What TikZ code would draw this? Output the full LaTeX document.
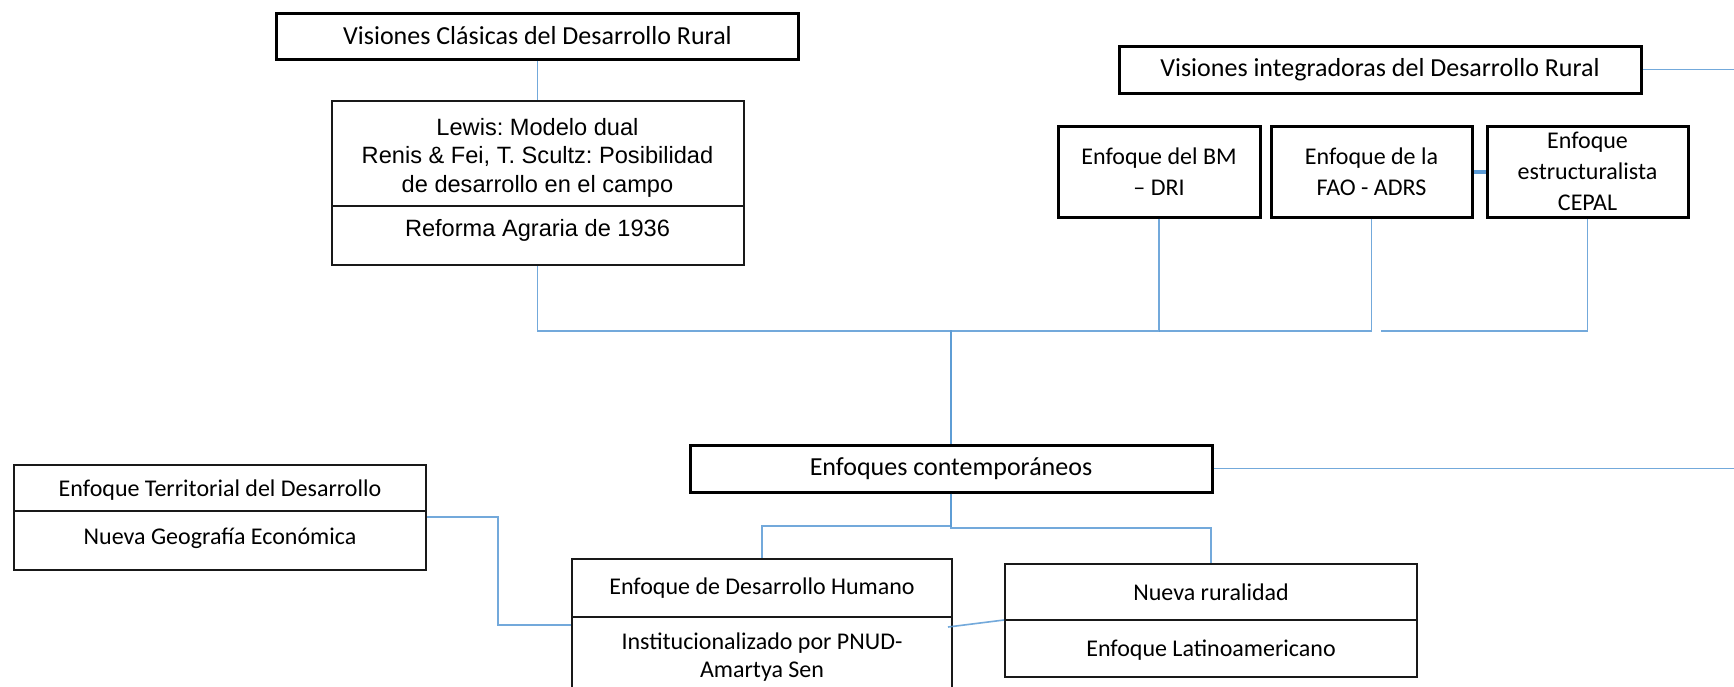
\documentclass[tikz,border=0pt]{standalone}
\usepackage{fontspec}
\newfontfamily\calibri{Carlito}
\newfontfamily\arial{Liberation Sans}
\usetikzlibrary{calc}
\definecolor{linkblue}{HTML}{5B9BD5}
\frenchspacing
\begin{document}
\begin{tikzpicture}[x=0.5pt,y=-0.5pt,
  sz/.style 2 args={minimum width=#1*0.5pt, minimum height=#2*0.5pt},
  tbox/.style={draw=black, line width=1.5pt, inner sep=0pt},
  nbox/.style={draw=black!90, line width=1pt, inner sep=0pt},
  conn/.style={draw=linkblue, line width=0.8pt, draw opacity=0.85},
  calT/.style={font=\calibri\fontsize{13}{16}\selectfont, align=center},
  calS/.style={font=\calibri\fontsize{12}{15.5}\selectfont, align=center},
  calD/.style={font=\calibri\fontsize{12}{14}\selectfont, align=center},
  ari/.style={font=\arial\fontsize{11.8}{14.25}\selectfont, align=center}]
\useasboundingbox (0,0) rectangle (1734,686);
\clip (0,0) rectangle (1734,686);
\fill[white] (0,0) rectangle (1734,686);

% Classical visions
\node[tbox, sz={522}{46}, calT] (vc) at (537.5,36) {Visiones Clásicas del Desarrollo Rural};
\node[nbox, sz={412}{105}] (lewisA) at (537.5,153.5) {};
\node[ari] (lewisAt) at (537.5,157.5) {Lewis: Modelo dual\\Renis \& Fei, T. Scultz: Posibilidad\\de desarrollo en el campo};
\node[nbox, sz={412}{59}] (lewisB) at (537.5,235.5) {};
\node[ari] (lewisBt) at (537.5,230) {Reforma Agraria de 1936};

% Integrating visions
\node[tbox, sz={522}{47}, calT] (vi) at (1380,69.5) {Visiones integradoras del Desarrollo Rural};
\node[tbox, sz={202}{91}, calS] (bm) at (1159,171.5) {Enfoque del BM\\– DRI};
\node[tbox, sz={201}{91}, calS] (fao) at (1371.5,171.5) {Enfoque de la\\FAO - ADRS};
\node[tbox, sz={201}{91}, calS] (cepal) at (1587.5,171.5) {Enfoque\\estructuralista\\CEPAL};

% Contemporary
\node[tbox, sz={522}{47}, calT] (ec) at (951,468.5) {Enfoques contemporáneos};
\node[nbox, sz={412}{46}] (etA) at (220,488) {};
\node[calS] (etAt) at (220,490.5) {Enfoque Territorial del Desarrollo};
\node[nbox, sz={412}{59}] (etB) at (220,540.5) {};
\node[calS] (etBt) at (220,538) {Nueva Geografía Económica};
\node[nbox, sz={380}{58}, calS] (dhA) at (762,588) {Enfoque de Desarrollo Humano};
\node[nbox, sz={380}{103}] (dhB) at (762,668.5) {};
\node[calD] (dhBt) at (762,657) {Institucionalizado por PNUD-\\Amartya Sen};
\node[nbox, sz={412}{56}, calS] (nrA) at (1211,592) {Nueva ruralidad};
\node[nbox, sz={412}{57}] (nrB) at (1211,648.5) {};
\node[calS] (nrBt) at (1211,650.5) {Enfoque Latinoamericano};

% helper coordinates
\coordinate (hub) at (951,331);
\coordinate (gapend) at (1381,331);
\coordinate (viend) at (1734,69.5);
\coordinate (ecend) at (1734,468.5);
\coordinate (forkL) at (762,526);
\coordinate (forkR) at (1211,528);

% connectors
\draw[conn] (vc.south) -- (lewisA.north);
\draw[conn] (lewisB.south) |- (hub) -- (ec.north);
\draw[conn] (bm.south) |- (hub) -- (ec.north);
\draw[conn] (fao.south) |- (bm.south |- hub);
\draw[conn] (cepal.south) |- (gapend);
\draw[draw=linkblue, line width=2pt] (fao.east) -- (cepal.west);
\draw[conn] (vi.east) -- (viend);
\draw[conn] (ec.east) -- (ecend);
\draw[conn] (ec.south) |- (forkL) -- (dhA.north);
\draw[conn] (ec.south) |- (forkR) -- (nrA.north);
\draw[conn] ($(etB.north east)+(0,7)$) -| ($(dhB.north west)+(-73,9)$) -- ($(dhB.north west)+(0,9)$);
\draw[conn] ($(dhB.north east)+(-5,11)$) -- ($(nrB.north west)+(0,1)$);
\end{tikzpicture}
\end{document}
